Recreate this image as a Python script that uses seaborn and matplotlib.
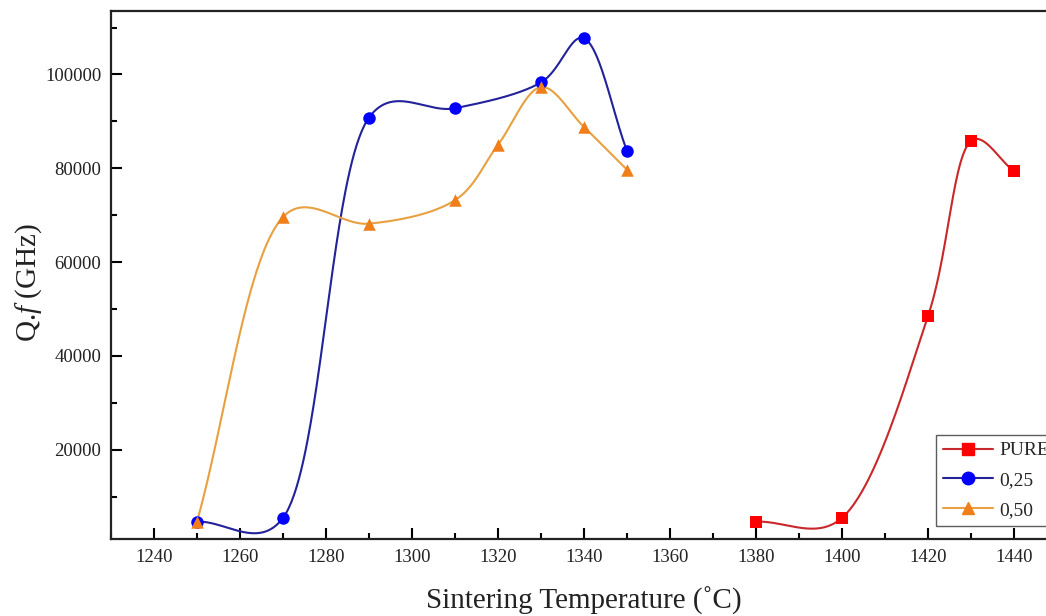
import numpy as np
import pandas as pd
import seaborn as sns
import matplotlib
matplotlib.use("Agg")
import matplotlib.pyplot as plt
from matplotlib.lines import Line2D
from matplotlib.ticker import MultipleLocator

# Sintering temperature (°C) and quality factor Q.f (GHz)
temp_pure = [1380, 1400, 1420, 1430, 1440]
qf_pure = [4700, 5500, 48500, 85800, 79400]

temp_025 = [1250, 1270, 1290, 1310, 1330, 1340, 1350]
qf_025 = [4700, 5500, 90800, 92800, 98300, 107700, 83700]

temp_050 = [1250, 1270, 1290, 1310, 1320, 1330, 1340, 1350]
qf_050 = [4700, 69600, 68200, 73200, 85000, 97300, 88800, 79700]

labels = ["PURE", "0,25", "0,50"]


def catmull_rom(ax, x, y, alpha=0.3, per_seg=80):
    """Catmull-Rom curve through the points, built in display space."""
    P = ax.transData.transform(np.column_stack([x, y]))
    P = np.vstack([2 * P[0] - P[1], P, 2 * P[-1] - P[-2]])
    out = []
    for i in range(1, len(P) - 2):
        p0, p1, p2, p3 = P[i - 1], P[i], P[i + 1], P[i + 2]
        t0 = 0.0
        t1 = t0 + np.linalg.norm(p1 - p0) ** alpha
        t2 = t1 + np.linalg.norm(p2 - p1) ** alpha
        t3 = t2 + np.linalg.norm(p3 - p2) ** alpha
        t = np.linspace(t1, t2, per_seg)[:, None]
        a1 = (t1 - t) / (t1 - t0) * p0 + (t - t0) / (t1 - t0) * p1
        a2 = (t2 - t) / (t2 - t1) * p1 + (t - t1) / (t2 - t1) * p2
        a3 = (t3 - t) / (t3 - t2) * p2 + (t - t2) / (t3 - t2) * p3
        b1 = (t2 - t) / (t2 - t0) * a1 + (t - t0) / (t2 - t0) * a2
        b2 = (t3 - t) / (t3 - t1) * a2 + (t - t1) / (t3 - t1) * a3
        out.append((t2 - t) / (t2 - t1) * b1 + (t - t1) / (t2 - t1) * b2)
    curve = ax.transData.inverted().transform(np.vstack(out))
    return curve[:, 0], curve[:, 1]


sns.set_theme(style="ticks")
plt.rcParams["font.family"] = ["Liberation Serif", "DejaVu Serif"]
plt.rcParams["mathtext.fontset"] = "custom"
plt.rcParams["mathtext.rm"] = "Liberation Serif"
plt.rcParams["mathtext.it"] = "Liberation Serif:italic"

fig = plt.figure(figsize=(10.46, 6.16), dpi=100)
ax = fig.add_axes([0.1061, 0.125, 0.9044, 0.857])
ax.set_xlim(1230, 1450)
ax.set_ylim(1000, 113500)

series = [
    (temp_pure, qf_pure, "#c8282a", "#ff0000", "s", 8),
    (temp_025, qf_025, "#22229a", "#0000ff", "o", 9),
    (temp_050, qf_050, "#e8a040", "#f07f1a", "^", 9),
]

handles = []
for (tx, qy, lc, mc, mk, ms), lab in zip(series, labels):
    xs, ys = catmull_rom(ax, tx, qy)
    sns.lineplot(x=xs, y=ys, ax=ax, color=lc, linewidth=1.5, legend=False,
                 sort=False, estimator=None)
    pts = pd.DataFrame({"T": tx, "Qf": qy})
    sns.scatterplot(data=pts, x="T", y="Qf", ax=ax, color=mc, marker=mk,
                    s=ms ** 2, linewidth=0, zorder=3, legend=False)
    handles.append(Line2D([], [], color=lc, linewidth=1.5, marker=mk,
                          markerfacecolor=mc, markeredgecolor=mc,
                          markersize=ms))

ax.set_xlim(1230, 1450)
ax.set_ylim(1000, 113500)
ax.xaxis.set_major_locator(MultipleLocator(20))
ax.xaxis.set_minor_locator(MultipleLocator(10))
ax.yaxis.set_minor_locator(MultipleLocator(10000))
ax.set_yticks([20000, 40000, 60000, 80000, 100000])

ax.tick_params(which="both", direction="in", color="black", width=1.5,
               labelsize=13.5, labelcolor="#222222")
ax.tick_params(which="major", length=8, pad=7)
ax.tick_params(which="minor", length=4)
for sp in ax.spines.values():
    sp.set_linewidth(1.6)
    sp.set_color("#222222")

ax.set_xlabel("Sintering Temperature (˚C)", fontsize=21, labelpad=15,
              color="#222222")
ax.set_ylabel("Q.$\\mathit{f}$ (GHz)", fontsize=21, color="#222222")
ax.yaxis.set_label_coords(-0.0707, 0.485)

leg = fig.legend(handles, labels, loc="upper left",
                 bbox_to_anchor=(936 / 1046, 1 - 435 / 616),
                 fontsize=14, frameon=True, fancybox=False,
                 edgecolor="#333333", handlelength=2.6, handletextpad=0.3,
                 labelspacing=0.62, borderpad=0.35, borderaxespad=0)
leg.get_frame().set_linewidth(1.0)

fig.savefig("out.png", dpi=100)
